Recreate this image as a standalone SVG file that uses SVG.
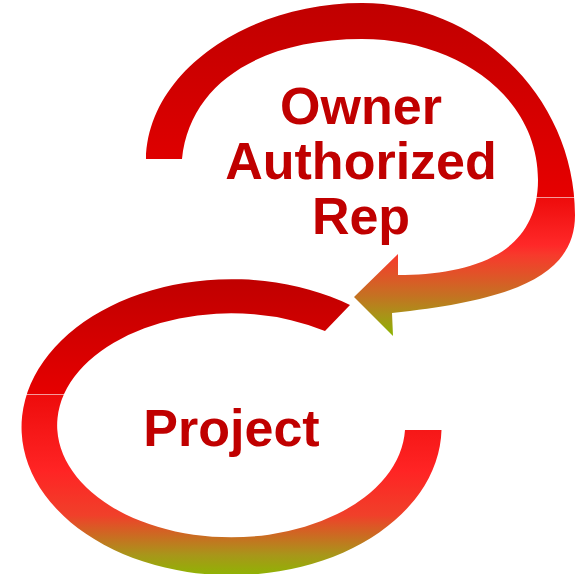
<svg xmlns="http://www.w3.org/2000/svg" width="575" height="574" viewBox="0 0 575 574">
  <defs>
    <linearGradient id="gTop" gradientUnits="userSpaceOnUse" x1="0" y1="3" x2="0" y2="336">
      <stop offset="0" stop-color="#c00000"/>
      <stop offset="0.5826" stop-color="#e60000"/>
      <stop offset="0.5826" stop-color="#f49a9a"/>
      <stop offset="0.5856" stop-color="#f49a9a"/>
      <stop offset="0.5856" stop-color="#ee0c0c"/>
      <stop offset="0.727" stop-color="#ff2828"/>
      <stop offset="0.757" stop-color="#f73a2c"/>
      <stop offset="0.817" stop-color="#e05428"/>
      <stop offset="0.88" stop-color="#c47222"/>
      <stop offset="0.94" stop-color="#a89418"/>
      <stop offset="1" stop-color="#8cb400"/>
    </linearGradient>
    <linearGradient id="gBot" gradientUnits="userSpaceOnUse" x1="0" y1="280" x2="0" y2="578">
      <stop offset="0" stop-color="#c00000"/>
      <stop offset="0.3826" stop-color="#e60000"/>
      <stop offset="0.3826" stop-color="#f49a9a"/>
      <stop offset="0.3859" stop-color="#f49a9a"/>
      <stop offset="0.3859" stop-color="#ee0c0c"/>
      <stop offset="0.64" stop-color="#ff2424"/>
      <stop offset="0.79" stop-color="#f0402a"/>
      <stop offset="0.856" stop-color="#cc6a22"/>
      <stop offset="0.923" stop-color="#a8961a"/>
      <stop offset="1" stop-color="#8cb800"/>
    </linearGradient>
  </defs>
  <style>
    .lbl { font-family: "Liberation Sans", Arial, sans-serif; font-weight: bold; font-size: 52px; fill: #c00000; text-anchor: middle; }
  </style>
  <g id="connectors">
    <path id="arrow-top" fill="url(#gTop)" d="M 146,159 C 148,70 250,3 362,3 C 480,3 575,100 575,215 C 575,275 515,300 392,313 L 393,336 L 354,297 L 398,254 L 398,275 C 470,275 538,255 538,180 C 538,95 455,39 362,39 C 262,39 190,82 182,159 Z"/>
    <path id="arc-bottom" fill="url(#gBot)" d="M 350,305 A 210 148 0 1 0 441.5,430 L 405,430 A 174 112 0 1 1 325,331 Z"/>
  </g>
  <g id="node-owner">
    <text class="lbl" x="361" y="124">Owner</text>
    <text class="lbl" x="361" y="179">Authorized</text>
    <text class="lbl" x="361" y="234">Rep</text>
  </g>
  <g id="node-project">
    <text class="lbl" x="231.5" y="446">Project</text>
  </g>
</svg>
